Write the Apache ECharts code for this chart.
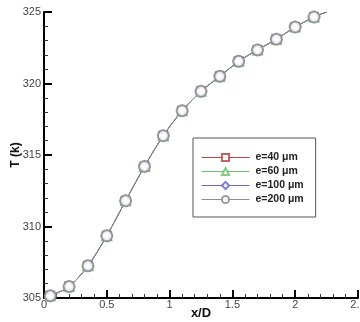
<!DOCTYPE html>
<html>
<head>
<meta charset="utf-8">
<script src="https://cdn.jsdelivr.net/npm/echarts@6/dist/echarts.min.js"></script>
<style>
  html, body { margin: 0; padding: 0; background: #fff; }
  #myChart { width: 360px; height: 322px; }
</style>
</head>
<body>
<div id="myChart"></div>
<script>
  // values
  var seriesNames = ['e=40 μm', 'e=60 μm', 'e=100 μm', 'e=200 μm'];
  var markerX = [0.05, 0.2, 0.35, 0.5, 0.65, 0.8, 0.95, 1.1, 1.25, 1.4, 1.55, 1.7, 1.85, 2.0, 2.15];
  var tempE40 = [305.15, 305.8, 307.25, 309.35, 311.8, 314.2, 316.35, 318.1, 319.45, 320.5, 321.55, 322.35, 323.1, 323.95, 324.65];
  var tempE60 = [305.15, 305.8, 307.25, 309.35, 311.8, 314.2, 316.35, 318.1, 319.45, 320.5, 321.55, 322.35, 323.1, 323.95, 324.65];
  var tempE100 = [305.15, 305.8, 307.25, 309.35, 311.8, 314.2, 316.35, 318.1, 319.45, 320.5, 321.55, 322.35, 323.1, 323.95, 324.65];
  var tempE200 = [305.15, 305.8, 307.25, 309.35, 311.8, 314.2, 316.35, 318.1, 319.45, 320.5, 321.55, 322.35, 323.1, 323.95, 324.65];
  // curve ends (no marker there)
  var lineStart = [0, 305.0];
  var lineEnd = [2.25, 325.0];

  var colors = ['#b04848', '#6cc46c', '#6a6ac8', '#8c8c8c'];
  var symbols = ['emptyRect', 'emptyTriangle', 'emptyDiamond', 'emptyCircle'];
  var symbolSizes = [8, 9, 10, 11];
  var allTemps = [tempE40, tempE60, tempE100, tempE200];

  function buildData(temps) {
    var data = [{ value: lineStart, symbolSize: 0 }];
    for (var i = 0; i < markerX.length; i++) {
      data.push([markerX[i], temps[i]]);
    }
    data.push({ value: lineEnd, symbolSize: 0 });
    return data;
  }

  var series = [];
  for (var i = 0; i < seriesNames.length; i++) {
    series.push({
      name: seriesNames[i],
      type: 'line',
      smooth: 0.3,
      symbol: symbols[i],
      symbolSize: symbolSizes[i],
      showAllSymbol: true,
      lineStyle: { color: colors[i], width: 1 },
      itemStyle: { color: colors[i], borderWidth: 0.8, opacity: 0.85 },
      data: buildData(allTemps[i])
    });
  }

  var axisText = { color: '#444', fontFamily: 'Liberation Sans, Arial', fontSize: 11 };

  var myChart = echarts.init(document.getElementById('myChart'));
  myChart.setOption({
    animation: false,
    textStyle: { fontFamily: 'Liberation Sans, Arial' },
    grid: { left: 44, right: 2, top: 12, bottom: 24, outerBoundsMode: 'none', containLabel: false },
    legend: {
      orient: 'vertical',
      left: 193,
      top: 138,
      padding: [14, 12, 12, 8],
      borderColor: '#555',
      borderWidth: 1,
      itemWidth: 48,
      itemHeight: 9,
      itemGap: 3,
      lineStyle: { width: 1 },
      itemStyle: { borderWidth: 1 },
      textStyle: { fontSize: 10.5, fontWeight: 'bold', color: '#222', padding: [0, 0, 0, 1] },
      data: seriesNames
    },
    xAxis: {
      type: 'value',
      min: 0,
      max: 2.5,
      interval: 0.5,
      name: 'x/D',
      nameLocation: 'middle',
      nameGap: 9,
      nameMoveOverlap: false,
      nameTextStyle: { fontSize: 13, fontWeight: 'bold', color: '#111' },
      axisLine: { onZero: false, lineStyle: { color: '#000', width: 2 } },
      axisTick: { inside: true, length: 8, lineStyle: { color: '#000', width: 2 } },
      minorTick: { show: true, splitNumber: 5, length: 4, lineStyle: { color: '#333', width: 1 } },
      splitLine: { show: false },
      axisLabel: Object.assign({ margin: 1 }, axisText)
    },
    yAxis: {
      type: 'value',
      min: 305,
      max: 325,
      interval: 5,
      name: 'T (k)',
      nameLocation: 'middle',
      nameRotate: 90,
      nameGap: 22,
      nameMoveOverlap: false,
      nameTextStyle: { fontSize: 12, fontWeight: 'bold', color: '#111' },
      axisLine: { onZero: false, lineStyle: { color: '#000', width: 2 } },
      axisTick: { inside: true, length: 8, lineStyle: { color: '#000', width: 2 } },
      minorTick: { show: true, splitNumber: 5, length: 4, lineStyle: { color: '#333', width: 1 } },
      splitLine: { show: false },
      axisLabel: Object.assign({ margin: 3 }, axisText)
    },
    series: series
  });
</script>
</body>
</html>
